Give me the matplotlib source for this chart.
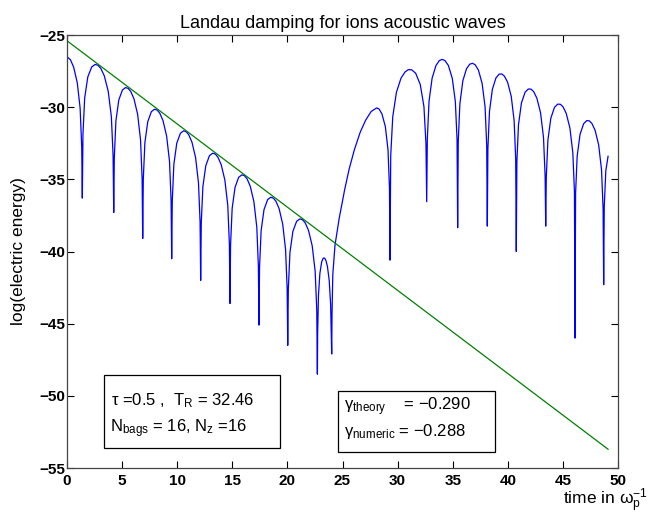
import matplotlib
matplotlib.use("Agg")
import matplotlib.pyplot as plt
from matplotlib.patches import Rectangle

plt.rcParams['font.family'] = ['Liberation Sans', 'DejaVu Sans']
plt.rcParams['mathtext.fontset'] = 'custom'
plt.rcParams['mathtext.rm'] = 'Liberation Sans'
plt.rcParams['mathtext.it'] = 'Liberation Sans:italic'
plt.rcParams['mathtext.bf'] = 'Liberation Sans:bold'

# simulated log(electric energy), read off the picture arch by arch
t_wave = [
    0.0, 0.316, 0.604, 0.93, 1.19, 1.337, 1.39,
    1.447, 1.604, 1.889, 2.245, 2.559, 2.815, 3.071, 3.385, 3.741, 4.026, 4.183, 4.24,
    4.293, 4.437, 4.700, 5.029, 5.318, 5.555, 5.792, 6.081, 6.410, 6.673, 6.817, 6.87,
    6.923, 7.067, 7.330, 7.659, 7.948, 8.185, 8.422, 8.711, 9.040, 9.303, 9.447, 9.50,
    9.553, 9.697, 9.960, 10.289, 10.578, 10.815, 11.052, 11.341, 11.670, 11.933, 12.077, 12.13,
    12.183, 12.330, 12.596, 12.928, 13.221, 13.46, 13.699, 13.992, 14.325, 14.590, 14.737, 14.79,
    14.843, 14.987, 15.250, 15.579, 15.868, 16.105, 16.342, 16.631, 16.960, 17.223, 17.367, 17.42,
    17.472, 17.616, 17.877, 18.203, 18.490, 18.725, 18.960, 19.247, 19.573, 19.834, 19.978, 20.03,
    20.084, 20.232, 20.501, 20.837, 21.133, 21.375, 21.617, 21.913, 22.249, 22.518, 22.666, 22.72,
    22.746, 22.818, 22.948, 23.11, 23.253, 23.37, 23.487, 23.63, 23.793, 23.923, 23.994, 24.02,
    24.05, 24.12, 24.32, 24.7, 25.2, 25.6, 26.07, 26.6, 27.1, 27.6, 28.1, 28.32, 28.58, 28.89, 29.13, 29.262, 29.31,
    29.377, 29.56, 29.893, 30.309, 30.675, 30.975, 31.275, 31.641, 32.057, 32.39, 32.574, 32.64,
    32.696, 32.851, 33.132, 33.483, 33.792, 34.045, 34.298, 34.607, 34.958, 35.239, 35.394, 35.45,
    35.504, 35.652, 35.921, 36.257, 36.553, 36.795, 37.037, 37.333, 37.669, 37.938, 38.086, 38.14,
    38.193, 38.337, 38.600, 38.929, 39.218, 39.455, 39.692, 39.981, 40.310, 40.573, 40.717, 40.77,
    40.823, 40.970, 41.237, 41.571, 41.865, 42.105, 42.345, 42.639, 42.973, 43.240, 43.387, 43.44,
    43.493, 43.640, 43.906, 44.238, 44.531, 44.77, 45.009, 45.302, 45.635, 45.900, 46.047, 46.1,
    46.152, 46.295, 46.555, 46.88, 47.166, 47.4, 47.634, 47.92, 48.245, 48.505, 48.648, 48.7,
    48.752, 48.895, 49.1,
]
log_energy = [
    -26.5, -26.72, -27.23, -28.30, -30.06, -32.78, -36.3,
    -31.90, -29.36, -27.90, -27.21, -27.04, -27.10, -27.32, -27.83, -28.90, -30.66, -33.38, -37.3,
    -33.50, -30.96, -29.50, -28.81, -28.64, -28.70, -28.92, -29.43, -30.50, -32.26, -34.98, -39.1,
    -35.00, -32.46, -31.00, -30.31, -30.14, -30.20, -30.42, -30.93, -32.00, -33.76, -36.48, -40.5,
    -36.50, -33.96, -32.50, -31.81, -31.64, -31.70, -31.92, -32.43, -33.50, -35.26, -37.98, -42.0,
    -38.05, -35.51, -34.05, -33.36, -33.19, -33.25, -33.47, -33.98, -35.05, -36.81, -39.53, -43.6,
    -39.55, -37.01, -35.55, -34.86, -34.69, -34.75, -34.97, -35.48, -36.55, -38.31, -41.03, -45.1,
    -41.10, -38.56, -37.10, -36.41, -36.24, -36.30, -36.52, -37.03, -38.10, -39.86, -42.58, -46.5,
    -42.60, -40.06, -38.60, -37.91, -37.74, -37.80, -38.02, -38.53, -39.60, -41.36, -44.08, -48.5,
    -45.63, -43.04, -41.51, -40.72, -40.46, -40.45, -40.60, -41.02, -42.00, -43.68, -46.35, -47.1,
    -44.3, -41.6, -39.55, -37.7, -35.7, -34.3, -32.97, -31.75, -30.9, -30.3, -30.05, -30.13, -30.47, -31.35, -32.96, -35.59, -40.6,
    -33.34, -30.66, -28.97, -27.99, -27.56, -27.40, -27.41, -27.65, -28.43, -29.96, -32.54, -36.55,
    -32.23, -29.60, -27.99, -27.11, -26.77, -26.69, -26.77, -27.11, -27.99, -29.60, -32.23, -38.35,
    -32.37, -29.76, -28.17, -27.33, -27.02, -26.96, -27.06, -27.43, -28.35, -29.98, -32.63, -38.24,
    -32.89, -30.30, -28.76, -27.97, -27.71, -27.70, -27.85, -28.27, -29.24, -30.92, -33.59, -40.0,
    -33.79, -31.22, -29.71, -28.96, -28.74, -28.75, -28.92, -29.38, -30.39, -32.10, -34.79, -38.24,
    -34.84, -32.27, -30.76, -30.01, -29.79, -29.80, -29.97, -30.43, -31.44, -33.15, -35.84, -46.0,
    -35.95, -33.39, -31.89, -31.15, -30.93, -30.95, -31.13, -31.60, -32.61, -34.34, -37.03, -42.3,
    -36.9, -34.4, -33.4,
]

# theoretical damping line
t_theory = [0.0, 49.1]
log_theory = [-25.4, -53.7]

x_ticks = [0, 5, 10, 15, 20, 25, 30, 35, 40, 45, 50]
y_ticks = [-55, -50, -45, -40, -35, -30, -25]

fig = plt.figure(figsize=(6.5, 5.18), dpi=100)
ax = fig.add_axes([67 / 650, 50 / 518, 551 / 650, 433 / 518])

ax.plot(t_wave, log_energy, color='#0000ff', lw=0.9)
ax.plot(t_theory, log_theory, color='#008000', lw=0.9)

ax.set_xlim(0, 50)
ax.set_ylim(-55, -25)
ax.set_xticks(x_ticks)
ax.set_yticks(y_ticks)
ax.tick_params(direction='in', top=True, right=True, length=5, width=0.8,
               labelsize=11, colors='black')
ax.tick_params(axis='x', pad=4)
ax.tick_params(axis='y', pad=1.5)
for lab in ax.get_xticklabels() + ax.get_yticklabels():
    lab.set_fontweight('bold')
for sp in ax.spines.values():
    sp.set_color('#444444')
    sp.set_linewidth(0.9)

ax.set_title('Landau damping for ions acoustic waves', fontsize=13, pad=5)
fig.text(19 / 650, 1 - 251.5 / 518, 'log(electric energy)', rotation=90,
         ha='center', va='center', fontsize=12.5)
fig.text(648 / 650, 1 - 505 / 518, r'time in ω$_{\rm p}^{-1}$',
         ha='right', va='baseline', fontsize=12.5)

# parameter boxes
ax.add_patch(Rectangle((3.36, -53.62), 15.97, 5.06, fc='white', ec='black', lw=0.9, zorder=3))
ax.text(4.0, -50.64, r'τ =0.5 ,  T$_{\rm R}$ = 32.46', fontsize=12, va='baseline', zorder=4)
ax.text(3.9, -52.55, r'N$_{\rm bags}$ = 16, N$_{\rm z}$ =16', fontsize=12, va='baseline', zorder=4)

ax.add_patch(Rectangle((24.59, -53.90), 14.25, 4.23, fc='white', ec='black', lw=0.9, zorder=3))
ax.text(25.1, -51.0, r'γ$_{\rm theory}$    = −0.290', fontsize=12, va='baseline', zorder=4)
ax.text(25.1, -52.75, r'γ$_{\rm numeric}$ = −0.288', fontsize=12, va='baseline', zorder=4)

fig.savefig('out.png', dpi=100)
